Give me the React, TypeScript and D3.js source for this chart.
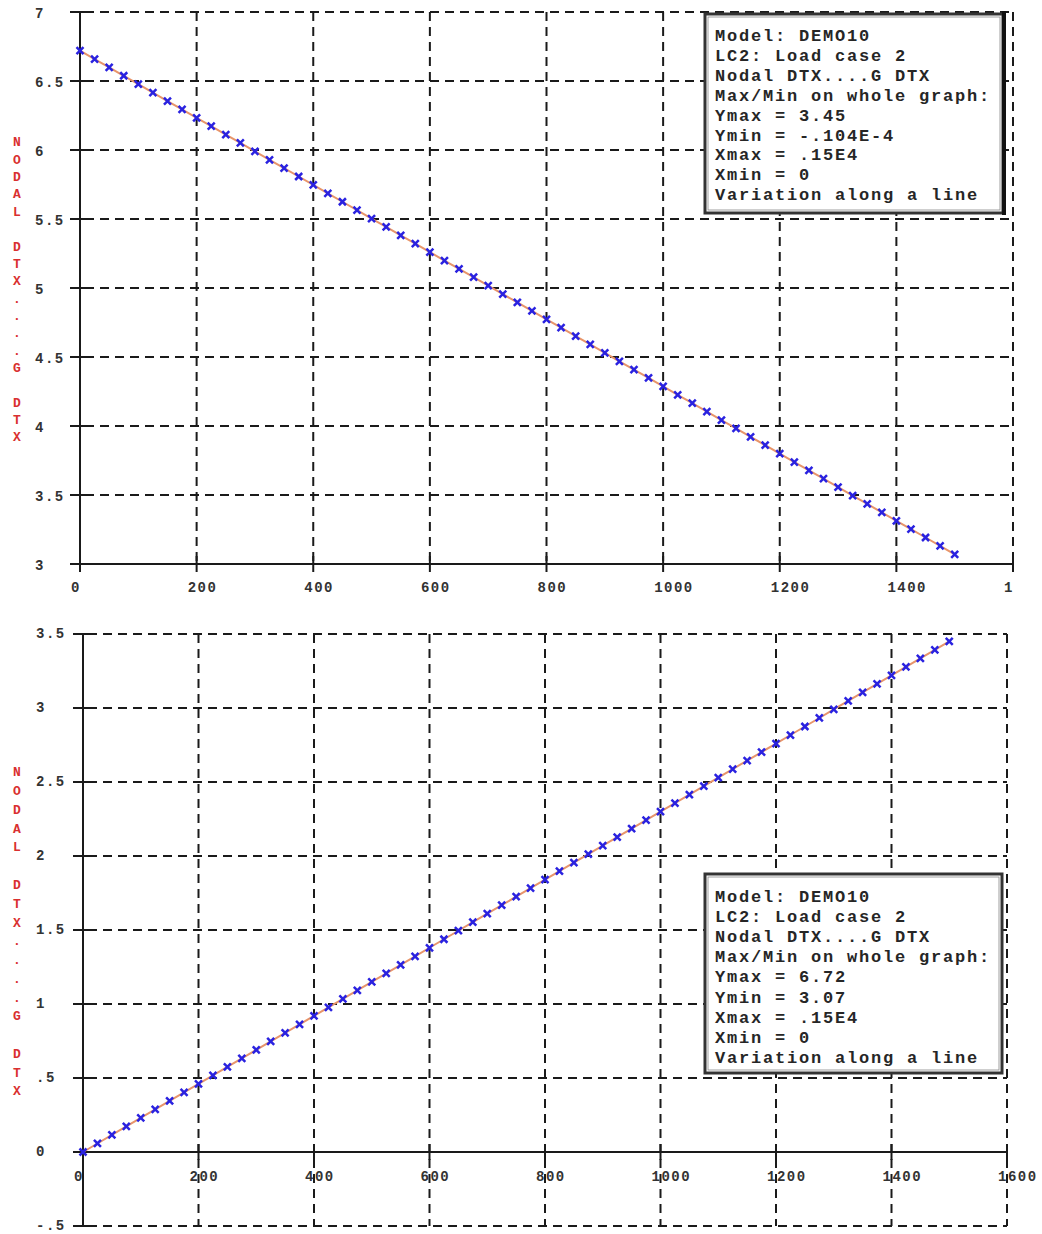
import React from 'react';
import * as d3 from 'd3';

// ---------- data ----------
const X_VALUES = [
  0, 25, 50, 75, 100, 125, 150, 175, 200, 225, 250, 275, 300, 325, 350, 375, 400, 425, 450, 475,
  500, 525, 550, 575, 600, 625, 650, 675, 700, 725, 750, 775, 800, 825, 850, 875, 900, 925, 950, 975,
  1000, 1025, 1050, 1075, 1100, 1125, 1150, 1175, 1200, 1225, 1250, 1275, 1300, 1325, 1350, 1375, 1400, 1425, 1450, 1475,
  1500,
];

const TOP_Y_VALUES = [
  6.72, 6.659, 6.598, 6.538, 6.477, 6.416, 6.355, 6.294, 6.233, 6.173,
  6.112, 6.051, 5.99, 5.929, 5.868, 5.808, 5.747, 5.686, 5.625, 5.564,
  5.503, 5.443, 5.382, 5.321, 5.26, 5.199, 5.138, 5.078, 5.017, 4.956,
  4.895, 4.834, 4.773, 4.713, 4.652, 4.591, 4.53, 4.469, 4.408, 4.348,
  4.287, 4.226, 4.165, 4.104, 4.043, 3.983, 3.922, 3.861, 3.8, 3.739,
  3.678, 3.618, 3.557, 3.496, 3.435, 3.374, 3.313, 3.253, 3.192, 3.131,
  3.07,
];

const BOTTOM_Y_VALUES = [
  0, 0.0575, 0.115, 0.1725, 0.23, 0.2875, 0.345, 0.4025, 0.46, 0.5175,
  0.575, 0.6325, 0.69, 0.7475, 0.805, 0.8625, 0.92, 0.9775, 1.035, 1.0925,
  1.15, 1.2075, 1.265, 1.3225, 1.38, 1.4375, 1.495, 1.5525, 1.61, 1.6675,
  1.725, 1.7825, 1.84, 1.8975, 1.955, 2.0125, 2.07, 2.1275, 2.185, 2.2425,
  2.3, 2.3575, 2.415, 2.4725, 2.53, 2.5875, 2.645, 2.7025, 2.76, 2.8175,
  2.875, 2.9325, 2.99, 3.0475, 3.105, 3.1625, 3.22, 3.2775, 3.335, 3.3925,
  3.45,
];

const X_TICKS = [0, 200, 400, 600, 800, 1000, 1200, 1400, 1600];
const TOP_X_LABELS = ['0', '200', '400', '600', '800', '1000', '1200', '1400', '1'];
const BOTTOM_X_LABELS = ['0', '200', '400', '600', '800', '1000', '1200', '1400', '1600'];

const TOP_Y_TICKS = [3, 3.5, 4, 4.5, 5, 5.5, 6, 6.5, 7];
const TOP_Y_LABELS = ['3', '3.5', '4', '4.5', '5', '5.5', '6', '6.5', '7'];
const BOTTOM_Y_TICKS = [-0.5, 0, 0.5, 1, 1.5, 2, 2.5, 3, 3.5];
const BOTTOM_Y_LABELS = ['-.5', '0', '.5', '1', '1.5', '2', '2.5', '3', '3.5'];

const Y_TITLE = 'NODAL DTX....G DTX';

const TOP_LEGEND = [
  'Model: DEMO10',
  'LC2: Load case 2',
  'Nodal DTX....G DTX',
  'Max/Min on whole graph:',
  'Ymax = 3.45',
  'Ymin = -.104E-4',
  'Xmax = .15E4',
  'Xmin = 0',
  'Variation along a line',
];
const BOTTOM_LEGEND = [
  'Model: DEMO10',
  'LC2: Load case 2',
  'Nodal DTX....G DTX',
  'Max/Min on whole graph:',
  'Ymax = 6.72',
  'Ymin = 3.07',
  'Xmax = .15E4',
  'Xmin = 0',
  'Variation along a line',
];

// ---------- styles ----------
const MONO = '"Liberation Mono", "DejaVu Sans Mono", monospace';
const GRID = '#1a1a1a';
const DASH = '9 6';
const LINE_COLOR = '#e8956a';
const MARK_COLOR = '#2a22e0';
const TITLE_COLOR = '#d93030';

type PanelProps = {
  x0: number;
  x1: number;
  yTop: number;
  yBottom: number;
  yDomain: [number, number];
  yTicks: number[];
  yLabels: string[];
  xLabels: string[];
  axisValue: number;
  ys: number[];
  yAxisExtra: number;
  xLabelY: number;
  yLabelX: number;
  yLabelDy: number;
  titleTop: number;
  titleBottom: number;
  legend: string[];
  legendBox: { x: number; y: number; w: number; h: number };
  legendFirst: number;
  legendStep: number;
  thickRight?: boolean;
};

function Panel(p: PanelProps) {
  const x = d3.scaleLinear().domain([0, 1600]).range([p.x0, p.x1]);
  const y = d3.scaleLinear().domain(p.yDomain).range([p.yBottom, p.yTop]);
  const ax = y(p.axisValue);
  const line = d3
    .line<number>()
    .x((_, i) => x(X_VALUES[i]))
    .y((d) => y(d));
  const titleStep = (p.titleBottom - p.titleTop) / (Y_TITLE.length - 1);
  const lb = p.legendBox;

  return (
    <g>
      {/* horizontal dashed grid */}
      {p.yTicks
        .filter((t) => t !== p.axisValue)
        .map((t) => (
          <line
            key={'h' + t}
            x1={p.x0 - 10}
            x2={p.x1}
            y1={y(t)}
            y2={y(t)}
            stroke={GRID}
            strokeWidth={2}
            strokeDasharray={DASH}
          />
        ))}
      {/* vertical dashed grid */}
      {X_TICKS.filter((t) => t !== 0).map((t) => (
        <line
          key={'v' + t}
          x1={x(t)}
          x2={x(t)}
          y1={p.yTop}
          y2={p.yBottom}
          stroke={GRID}
          strokeWidth={2}
          strokeDasharray={DASH}
        />
      ))}
      {/* axes */}
      <line x1={p.x0} x2={p.x0} y1={p.yTop} y2={p.yBottom + p.yAxisExtra} stroke={GRID} strokeWidth={2} />
      <line x1={p.x0 - 10} x2={p.x1} y1={ax} y2={ax} stroke={GRID} strokeWidth={2} />
      {/* ticks */}
      {p.yTicks.map((t) => (
        <line key={'yt' + t} x1={p.x0 - 10} x2={p.x0 + 8} y1={y(t)} y2={y(t)} stroke={GRID} strokeWidth={2} />
      ))}
      {X_TICKS.map((t) => (
        <line key={'xt' + t} x1={x(t)} x2={x(t)} y1={ax - 8} y2={ax + 8} stroke={GRID} strokeWidth={2} />
      ))}
      {/* tick labels */}
      {p.yTicks.map((t, i) => (
        <text
          key={'yl' + t}
          x={p.yLabelX}
          y={y(t) + p.yLabelDy}
          dominantBaseline="middle"
          fontFamily={MONO}
          fontWeight="bold"
          fontSize={14}
          letterSpacing={1.5}
          fill="#333"
        >
          {p.yLabels[i]}
        </text>
      ))}
      {X_TICKS.map((t, i) => (
        <text
          key={'xl' + t}
          x={x(t) - 9}
          y={p.xLabelY}
          dominantBaseline="middle"
          fontFamily={MONO}
          fontWeight="bold"
          fontSize={14}
          letterSpacing={1.5}
          fill="#333"
        >
          {p.xLabels[i]}
        </text>
      ))}
      {/* y title, stacked letters */}
      {Y_TITLE.split('').map((c, i) => (
        <text
          key={'tt' + i}
          x={17}
          y={p.titleTop + i * titleStep}
          textAnchor="middle"
          dominantBaseline="middle"
          fontFamily={MONO}
          fontWeight="bold"
          fontSize={13}
          fill={TITLE_COLOR}
        >
          {c}
        </text>
      ))}
      {/* data line */}
      <path d={line(p.ys) || ''} fill="none" stroke={LINE_COLOR} strokeWidth={2} />
      {p.ys.map((v, i) => {
        const cx = x(X_VALUES[i]);
        const cy = y(v);
        return (
          <path
            key={'m' + i}
            d={`M${cx - 3.5},${cy - 3.5}L${cx + 3.5},${cy + 3.5}M${cx - 3.5},${cy + 3.5}L${cx + 3.5},${cy - 3.5}`}
            stroke={MARK_COLOR}
            strokeWidth={2.5}
            fill="none"
          />
        );
      })}
      {/* legend box */}
      <rect x={lb.x} y={lb.y} width={lb.w} height={lb.h} fill="#fff" stroke="#333" strokeWidth={3} />
      <rect x={lb.x + 3} y={lb.y + 3} width={lb.w - 6} height={lb.h - 6} fill="none" stroke="#888" strokeWidth={0.8} />
      {p.thickRight && (
        <line x1={lb.x + lb.w + 1} x2={lb.x + lb.w + 1} y1={lb.y - 3} y2={lb.y + lb.h + 2} stroke="#111" strokeWidth={4} />
      )}
      {p.legend.map((s, i) => (
        <text
          key={'lg' + i}
          x={lb.x + 10}
          y={p.legendFirst + i * p.legendStep}
          fontFamily={MONO}
          fontWeight="bold"
          fontSize={17}
          letterSpacing={1.8}
          fill="#262626"
          style={{ whiteSpace: 'pre' }}
        >
          {s}
        </text>
      ))}
    </g>
  );
}

export default function App() {
  return (
    <svg
      width={1042}
      height={1234}
      style={{ position: 'absolute', left: 0, top: 0, background: '#fff' }}
    >
      <rect width={1042} height={1234} fill="#fff" />
      <Panel
        x0={80}
        x1={1013}
        yTop={12}
        yBottom={564}
        yDomain={[3, 7]}
        yTicks={TOP_Y_TICKS}
        yLabels={TOP_Y_LABELS}
        xLabels={TOP_X_LABELS}
        axisValue={3}
        ys={TOP_Y_VALUES}
        yAxisExtra={8}
        xLabelY={588}
        yLabelX={35}
        yLabelDy={2.5}
        titleTop={143}
        titleBottom={438}
        legend={TOP_LEGEND}
        legendBox={{ x: 705, y: 14, w: 298, h: 199 }}
        legendFirst={41}
        legendStep={19.9}
        thickRight
      />
      <Panel
        x0={83}
        x1={1007}
        yTop={634}
        yBottom={1226}
        yDomain={[-0.5, 3.5]}
        yTicks={BOTTOM_Y_TICKS}
        yLabels={BOTTOM_Y_LABELS}
        xLabels={BOTTOM_X_LABELS}
        axisValue={0}
        ys={BOTTOM_Y_VALUES}
        yAxisExtra={0}
        xLabelY={1177}
        yLabelX={36}
        yLabelDy={0}
        titleTop={773}
        titleBottom={1092}
        legend={BOTTOM_LEGEND}
        legendBox={{ x: 705, y: 874, w: 297, h: 199 }}
        legendFirst={902}
        legendStep={20.1}
      />
    </svg>
  );
}
